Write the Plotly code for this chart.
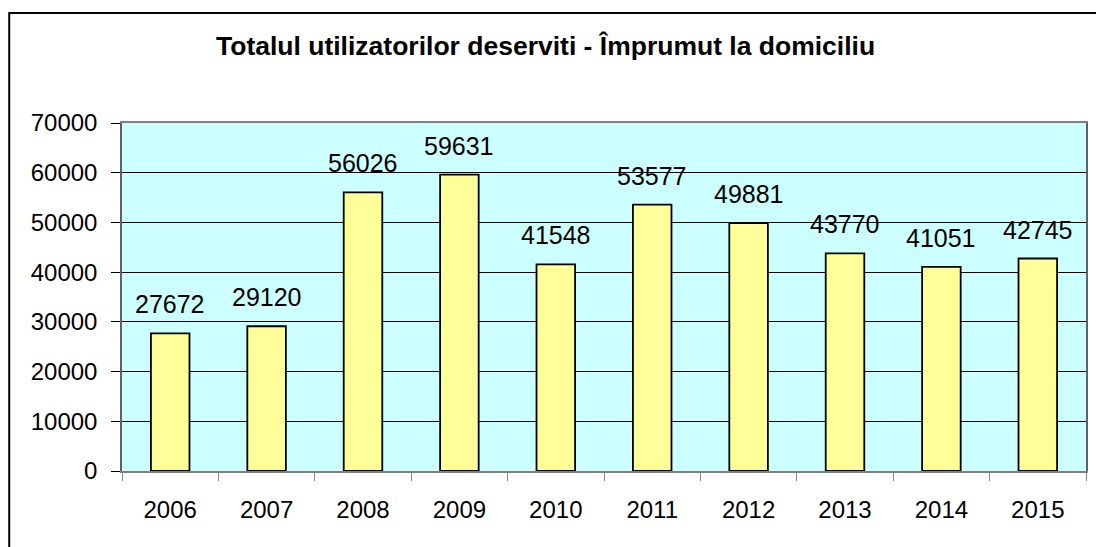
import plotly.graph_objects as go

years = ["2006", "2007", "2008", "2009", "2010", "2011", "2012", "2013", "2014", "2015"]
values = [27672, 29120, 56026, 59631, 41548, 53577, 49881, 43770, 41051, 42745]
title_text = "Totalul utilizatorilor deserviti - Împrumut la domiciliu"

W, H = 1096, 547
L, R, T, B = 122, 8, 123, 76
pw = W - L - R
ph = H - T - B
FONT = "Liberation Sans, Arial"

fig = go.Figure()
fig.add_trace(go.Bar(
    x=years, y=values,
    marker=dict(color="#FFFF99", line=dict(color="black", width=1.8)),
    width=0.4,
    hoverinfo="x+y",
))

for i, v in enumerate(values):
    fig.add_annotation(x=i, y=v, text=str(v), showarrow=False,
                       yanchor="bottom", yshift=13,
                       font=dict(family=FONT, size=25, color="black"))

fig.add_annotation(xref="paper", yref="paper", x=(546 - L) / pw, y=(H - B - 46) / ph,
                   text="<b>" + title_text + "</b>", showarrow=False,
                   xanchor="center", yanchor="middle",
                   font=dict(family=FONT, size=26.5, color="black"))

fig.add_shape(type="rect", xref="paper", yref="paper",
              x0=(9 - L) / pw, x1=1.05, y0=-0.5, y1=(H - B - 13) / ph,
              line=dict(color="black", width=2), layer="below")

fig.update_layout(
    width=W, height=H,
    margin=dict(l=L, r=R, t=T, b=B),
    paper_bgcolor="white",
    plot_bgcolor="#CCFFFF",
    showlegend=False,
    font=dict(family=FONT, size=24, color="black"),
    xaxis=dict(type="category", range=[-0.5, 9.5], showline=True, linecolor="#808080",
               linewidth=1.5, mirror=True, ticks="outside", tickson="boundaries",
               ticklen=8, tickcolor="#808080", showgrid=False, tickangle=0,
               ticklabelstandoff=16, tickfont=dict(size=24)),
    yaxis=dict(range=[0, 70000], dtick=10000, tickformat="d", showline=True,
               linecolor="#606060", linewidth=1.5, mirror=True, ticks="outside",
               ticklen=9, tickcolor="black", showgrid=True, gridcolor="black",
               gridwidth=1, zeroline=False, ticklabelstandoff=9,
               tickfont=dict(size=24)),
)

fig.write_html("out.html", config={"displayModeBar": False},
               post_script="document.body.style.margin='0';")
